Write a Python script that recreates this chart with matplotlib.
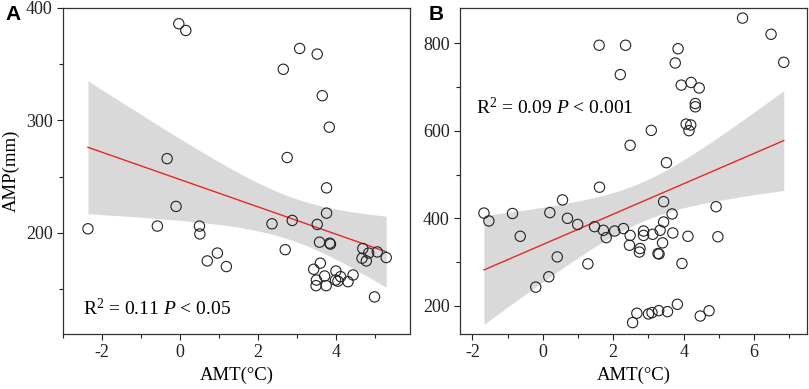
import numpy as np
import matplotlib
matplotlib.use("Agg")
import matplotlib.pyplot as plt
from matplotlib.ticker import MultipleLocator

plt.rcParams['font.family'] = ['Liberation Serif', 'DejaVu Serif']
plt.rcParams['mathtext.fontset'] = 'custom'
plt.rcParams['mathtext.rm'] = 'Liberation Serif'
plt.rcParams['mathtext.it'] = 'Liberation Serif:italic'
plt.rcParams['axes.unicode_minus'] = False

# Panel A data: AMT (°C) vs AMP (mm)
amt_a = [-0.03, 0.15, 3.07, 3.52, 2.65, 3.65, 3.83, -0.33, 2.75, 3.76, -0.10, 3.76,
         -2.36, -0.58, 0.50, 0.51, 2.36, 2.88, 3.52, 3.58, 3.84, 3.86, 2.70, 0.96,
         0.70, 1.19, 4.69, 5.06, 4.84, 5.29, 4.67, 4.78, 3.60, 3.43, 4.00, 3.71,
         4.12, 4.44, 3.50, 3.99, 4.05, 4.31, 3.75, 3.49, 4.99]
amp_a = [386, 380, 364, 359, 345.5, 322, 294, 266, 267, 240, 223.5, 217.5,
         203.6, 206, 206, 199, 208, 211, 207.5, 191.7, 190.8, 190, 185, 182,
         175, 170, 186, 183, 182, 178, 177.4, 175, 173, 167.6, 166, 161.6,
         161, 162.5, 158, 158, 157, 156.5, 153, 153, 143]

# Panel B data
amt_b = [5.67, 6.48, 6.84, 1.60, 2.35, 3.84, 3.76, 2.20, 3.93, 4.21, 4.44, 4.33,
         4.33, 4.07, 4.20, 4.15, 3.08, 2.48, 3.51, 1.61, 0.56, 3.43, -1.67, -1.53,
         -0.86, 0.20, 4.92, 3.67, 0.70, 3.43, 0.99, 1.47, 1.72, 2.04, 2.29, 2.86,
         3.33, 2.48, 2.86, 3.12, 3.69, 4.12, 4.97, -0.64, 1.80, 3.40, 2.46, 2.76,
         2.74, 3.27, 3.30, 0.41, 1.28, 3.95, 0.17, -0.20, 3.82, 3.29, 4.72, 3.54,
         2.67, 3.00, 3.10, 4.47, 2.55]
amp_b = [857, 820, 756, 795, 795, 787, 754.5, 728, 704, 710, 697.5, 662,
         654.5, 615, 613, 600, 600.7, 566.6, 527, 471, 442, 438, 412, 394,
         411, 413, 426.5, 410, 400, 391.6, 386, 381, 372.7, 371, 376.6, 371,
         372.7, 361, 361, 363.6, 366.6, 359, 358, 359, 356, 344, 338.6, 331,
         323, 319.7, 318.5, 312, 296, 297, 266.6, 243, 203.8, 189.3, 189, 187,
         183.4, 181.8, 184.8, 177, 162]

stats_a = r'R$^2$ = 0.11 $P$ < 0.05'
stats_b = r'R$^2$ = 0.09 $P$ < 0.001'


def fit_ci(x, y):
    x = np.asarray(x, float)
    y = np.asarray(y, float)
    n = len(x)
    b, a = np.polyfit(x, y, 1)
    xs = np.linspace(x.min(), x.max(), 200)
    yhat = a + b * xs
    resid = y - (a + b * x)
    s = np.sqrt(np.sum(resid ** 2) / (n - 2))
    sxx = np.sum((x - x.mean()) ** 2)
    se = s * np.sqrt(1.0 / n + (xs - x.mean()) ** 2 / sxx)
    t = 2.01
    return xs, yhat, yhat - t * se, yhat + t * se


fig = plt.figure(figsize=(8.09, 3.89), dpi=100)
axA = fig.add_axes([63 / 809, 55 / 389, 347 / 809, 326 / 389])
axB = fig.add_axes([460 / 809, 55 / 389, 347 / 809, 326 / 389])


def draw(ax, x, y, xlim, ylim, xmaj, ymaj, stats, tx, ty):
    xs, yh, lo, hi = fit_ci(x, y)
    ax.fill_between(xs, lo, hi, color='#d9d9d9', lw=0, zorder=1)
    ax.plot(xs, yh, color='#e8262a', lw=1.0, zorder=2)
    ax.scatter(x, y, s=55, facecolors='none', edgecolors='#222222', linewidths=0.8, zorder=3)
    ax.set_xlim(*xlim)
    ax.set_ylim(*ylim)
    ax.xaxis.set_major_locator(MultipleLocator(xmaj))
    ax.xaxis.set_minor_locator(MultipleLocator(xmaj / 2))
    ax.yaxis.set_major_locator(MultipleLocator(ymaj))
    ax.yaxis.set_minor_locator(MultipleLocator(ymaj / 2))
    ax.tick_params(which='both', direction='out', top=False, right=False,
                   labelsize=13, width=0.8, colors='#222222')
    ax.tick_params(which='major', length=4)
    ax.tick_params(which='minor', length=3)
    for sp in ax.spines.values():
        sp.set_linewidth(0.9)
        sp.set_color('#333333')
    ax.set_xlabel('AMT(°C)', fontsize=13.5, labelpad=4)
    ax.text(tx, ty, stats, transform=ax.transAxes, fontsize=14, ha='left', va='baseline')
    return ax


draw(axA, amt_a, amp_a, (-3, 5.9), (110, 400), 2, 100, stats_a, 0.058, 0.058)
axA.set_ylabel('AMP(mm)', fontsize=13.5, labelpad=4)
draw(axB, amt_b, amp_b, (-2.35, 7.5), (136, 880), 2, 200, stats_b, 0.046, 0.675)

fig.text(5 / 809, 1 - 20 / 389, 'A', fontsize=15, fontweight='bold',
         family='Liberation Sans')
fig.text(429 / 809, 1 - 20 / 389, 'B', fontsize=15, fontweight='bold',
         family='Liberation Sans')

fig.savefig('out.png', dpi=100)
